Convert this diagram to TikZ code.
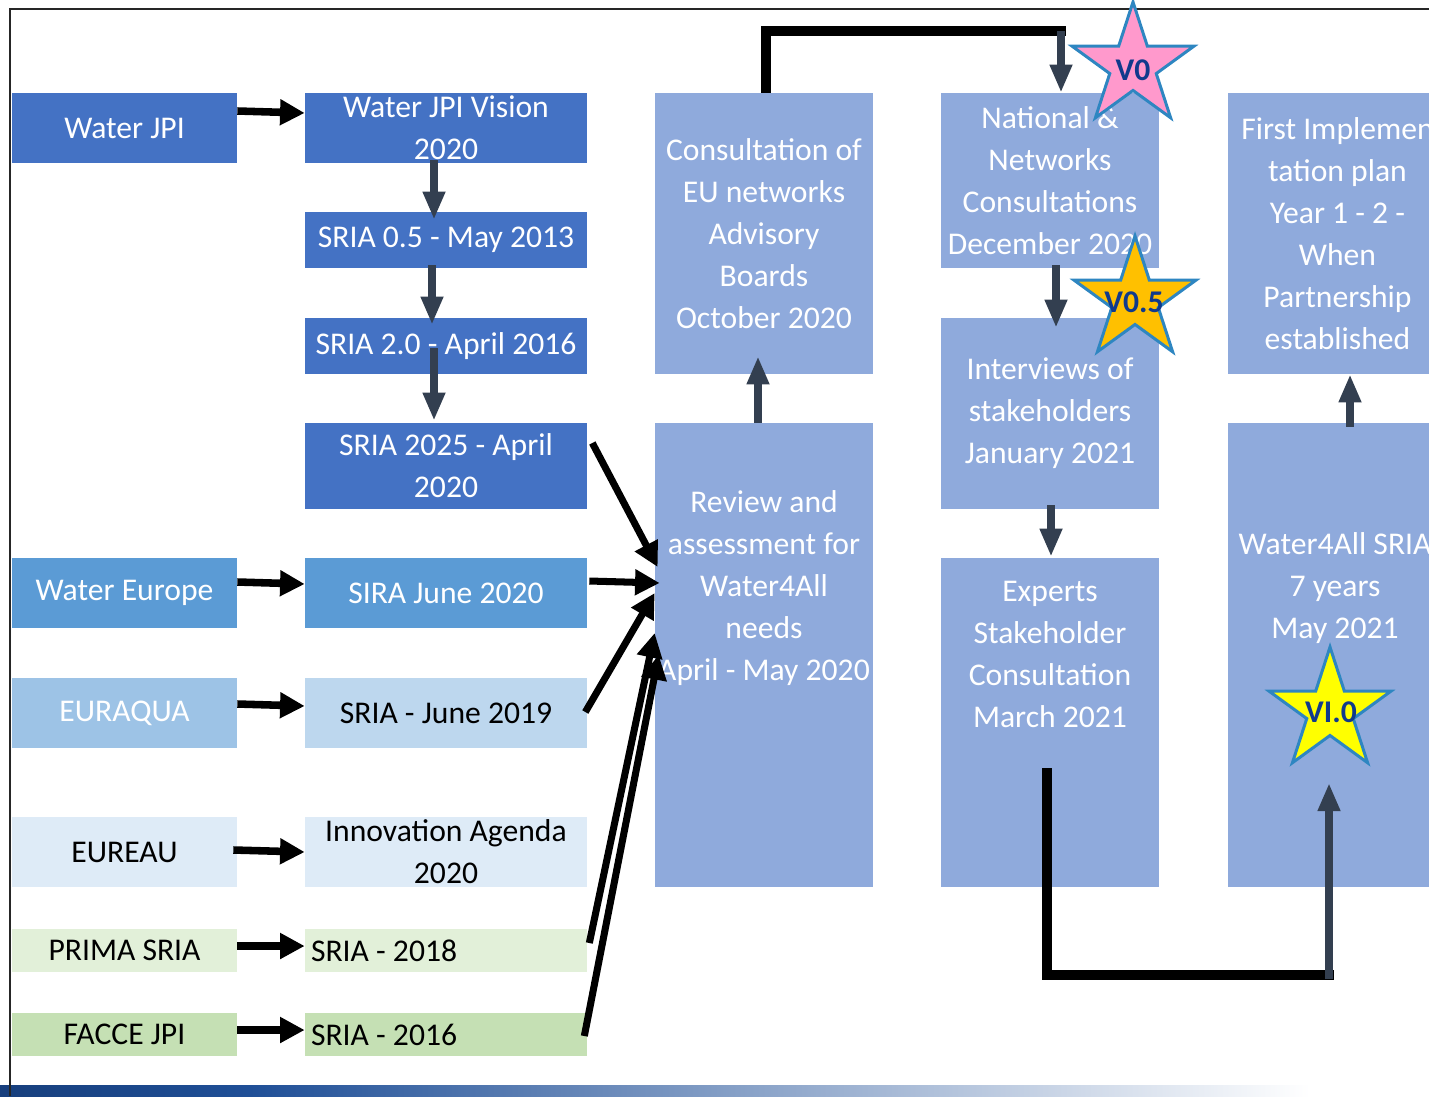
\documentclass[tikz,border=0pt]{standalone}
\usepackage{fontspec}
\setmainfont{Carlito}
\usetikzlibrary{arrows.meta, positioning, calc, shapes.geometric}
\definecolor{jpiblue}{HTML}{4472C4}
\definecolor{europeblue}{HTML}{5B9BD5}
\definecolor{aquablue}{HTML}{9DC3E6}
\definecolor{aquapale}{HTML}{BDD7EE}
\definecolor{eureaublue}{HTML}{DEEBF7}
\definecolor{primagreen}{HTML}{E2F0D9}
\definecolor{faccegreen}{HTML}{C5E0B4}
\definecolor{stepblue}{HTML}{8FAADC}
\definecolor{slate}{HTML}{333F50}
\definecolor{starline}{HTML}{2E86C1}
\definecolor{starpink}{HTML}{FF99CC}
\definecolor{stargold}{HTML}{FFC000}
\definecolor{staryellow}{HTML}{FFFF00}
\definecolor{starlabel}{HTML}{103A8C}
\definecolor{bandnavy}{HTML}{173F7D}
\definecolor{bandblue}{HTML}{1F4F97}
\tikzset{
    txt/.style={font=\fontsize{18pt}{23.9pt}\selectfont, align=center},
    srcbox/.style={txt, inner sep=0pt, minimum width=4.5cm, minimum height=1.4cm},
    docbox/.style={txt, inner sep=0pt, minimum width=5.64cm, minimum height=1.4cm},
    stepbox/.style={fill=stepblue, inner sep=0pt, minimum width=4.36cm},
    steptxt/.style={txt, text=white},
    feed/.style={-{Triangle[length=14pt, width=14pt]}, line width=4.3pt},
    slatearrow/.style={draw=slate, -{Triangle[length=16pt, width=12pt]}, line width=5pt},
    elbow/.style={line width=6pt, line cap=rect},
    vstar/.style={star, star points=5, star point ratio=2.618, minimum size=2.56cm,
        inner sep=0pt, draw=starline, line width=1.7pt},
    vlabel/.style={font=\fontsize{18pt}{18pt}\selectfont\bfseries, text=starlabel}
}

\begin{document}
\begin{tikzpicture}[x=0.02cm, y=-0.02cm]
    \useasboundingbox (0,0) rectangle (1429,1096);
    \clip (0,0) rectangle (1429,1096);
    % Footer band and frame
    \shade[left color=bandnavy, right color=bandblue] (0,1085) rectangle (250,1096);
    \shade[left color=bandblue, right color=white] (250,1085) rectangle (1310,1096);
    \draw[line width=1.4pt, black!85] (10,1096) -- (10,9) -- (1429,9);
    % Sources
    \node[srcbox, fill=jpiblue, text=white] (wjpi) at (124.5,128) {Water JPI};
    \node[srcbox, fill=europeblue, text=white] (weurope) at (124.5,593) {Water Europe};
    \node[srcbox, fill=aquablue, text=white] (euraqua) at (124.5,713) {EURAQUA};
    \node[srcbox, fill=eureaublue] (eureau) at (124.5,852) {EUREAU};
    \node[srcbox, fill=primagreen, minimum height=0.86cm] (prima) at (124.5,950.5) {PRIMA SRIA};
    \node[srcbox, fill=faccegreen, minimum height=0.86cm] (facce) at (124.5,1034.5) {FACCE JPI};
    % Documents
    \node[docbox, fill=jpiblue, text=white] (vision) at (446,128) {Water JPI Vision\\2020};
    \node[docbox, fill=jpiblue, text=white, minimum height=1.12cm] (sria05) at (446,240) {SRIA 0.5 - May 2013};
    \node[docbox, fill=jpiblue, text=white, minimum height=1.12cm] (sria20) at (446,346) {SRIA 2.0 - April 2016};
    \node[docbox, fill=jpiblue, text=white, minimum height=1.72cm] (sria25) at (446,466) {SRIA 2025 - April\\2020};
    \node[docbox, fill=europeblue, text=white] (sira) at (446,593) {SIRA June 2020};
    \node[docbox, fill=aquapale] (june19) at (446,713) {SRIA - June 2019};
    \node[docbox, fill=eureaublue] (innov) at (446,852) {Innovation Agenda\\2020};
    \node[docbox, fill=primagreen, minimum height=0.86cm, text width=5.4cm, align=flush left] (sria18) at (446,950.5) {SRIA - 2018};
    \node[docbox, fill=faccegreen, minimum height=0.86cm, text width=5.4cm, align=flush left] (sria16) at (446,1034.5) {SRIA - 2016};
    % Process steps
    \node[stepbox, minimum height=5.62cm, steptxt] (consult) at (764,233.5) {Consultation of\\EU networks\\Advisory\\Boards\\October 2020};
    \node[stepbox, minimum height=9.28cm] (review) at (764,655) {};
    \node[steptxt] (reviewtxt) at (764,588) {Review and\\assessment for\\Water4All\\needs\\April - May 2020};
    \node[stepbox, minimum height=3.5cm, steptxt] (national) at (1050,180.5) {National \&\\Networks\\Consultations\\December 2020};
    \node[stepbox, minimum height=3.82cm, steptxt] (interv) at (1050,413.5) {Interviews of\\stakeholders\\January 2021};
    \node[stepbox, minimum height=6.58cm] (experts) at (1050,722.5) {};
    \node[steptxt] (expertstxt) at (1050,654) {Experts\\Stakeholder\\Consultation\\March 2021};
    \node[stepbox, minimum width=4.38cm, minimum height=5.62cm, steptxt] (firstimpl) at (1337.5,233.5) {First Implemen\\tation plan\\Year 1 - 2 -\\When\\Partnership\\established};
    \node[stepbox, minimum width=4.38cm, minimum height=9.28cm] (w4all) at (1337.5,655) {};
    \node[steptxt] (w4alltxt) at (1335,588) {Water4All SRIA\\7 years\\May 2021};
    % Sources to documents
    \draw[feed] ($(wjpi.east)+(0,-17)$) -- ($(vision.west)+(0,-15)$);
    \draw[feed] ($(weurope.east)+(0,-11)$) -- ($(sira.west)+(0,-9)$);
    \draw[feed] ($(euraqua.east)+(0,-9)$) -- ($(june19.west)+(0,-7)$);
    \draw[feed] ($(eureau.east)+(-4,-2)$) -- (innov.west);
    \draw[feed] ($(prima.east)+(0,-4.5)$) -- ($(sria18.west)+(0,-4.5)$);
    \draw[feed] ($(facce.east)+(0,-4.5)$) -- ($(sria16.west)+(0,-4.5)$);
    % Water JPI chain
    \draw[slatearrow] ($(vision.south)+(-12,-3)$) -- ($(sria05.north)+(-12,8)$);
    \draw[slatearrow] ($(sria05.south)+(-14,-3)$) -- ($(sria20.north)+(-14,7)$);
    \draw[slatearrow] ($(sria20.south)+(-12,-26)$) -- ($(sria25.north)+(-12,-2)$);
    % Into the review
    \draw[feed, line width=4pt] ($(sria25.east)+(5,-23)$) -- ($(review.west)+(3,-88)$);
    \draw[feed, line width=4pt] ($(sira.east)+(2,-12)$) -- ($(review.west)+(5,-72)$);
    \draw[feed, line width=4pt] ($(june19.east)+(-2,-1)$) -- ($(review.west)+(0,-62)$);
    \draw[feed, line width=4pt] ($(sria18.east)+(2,-7.5)$) -- ($(review.west)+(0,-22)$);
    \draw[feed, line width=4pt] ($(sria16.east)+(-3,1.5)$) -- ($(review.west)+(4,0)$);
    % Consultation rounds
    \draw[slatearrow] ($(review.north)+(-6,0)$) -- ($(consult.south)+(-6,-18)$);
    \coordinate (topturn) at (1061,31);
    \draw[elbow] ($(consult.north)+(2,-5)$) |- (topturn);
    \draw[slatearrow] (topturn) -- ($(national.north)+(11,0)$);
    \draw[slatearrow] ($(national.south)+(6,-3)$) -- ($(interv.north)+(6,10)$);
    \draw[slatearrow] ($(interv.south)+(1,-4)$) -- ($(experts.north)+(1,-1)$);
    \coordinate (bottomturn) at (1329,975);
    \draw[elbow] ($(experts.center)+(-3,51)$) |- (bottomturn);
    \draw[slatearrow] ($(bottomturn)+(0,4)$) -- ($(w4all.center)+(-8.5,128)$);
    \draw[slatearrow] ($(w4all.north)+(12.5,4)$) -- ($(firstimpl.south)+(12.5,0)$);
    % Version stars
    \node[vstar, fill=starpink] (vzero) at (1133,66) {};
    \node[vlabel] (vzerotxt) at (1133,70) {V0};
    \node[vstar, fill=stargold] (vhalf) at (1135,300) {};
    \node[vlabel] (vhalftxt) at (1134,302) {V0.5};
    \node[vstar, fill=staryellow] (vone) at (1330,711) {};
    \node[vlabel] (vonetxt) at (1331,712) {VI.0};
\end{tikzpicture}
\end{document}
